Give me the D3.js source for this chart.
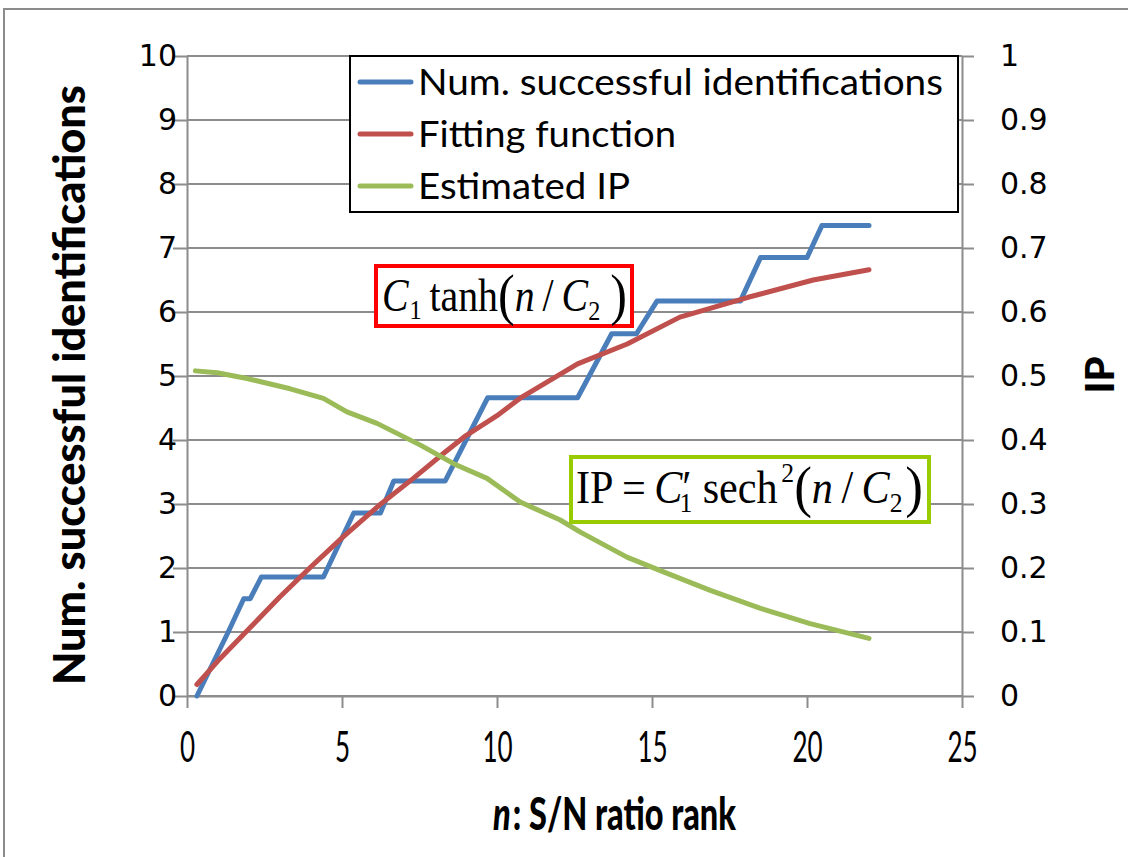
<!DOCTYPE html>
<html>
<head>
<meta charset="utf-8">
<script src="https://cdn.jsdelivr.net/npm/d3@7"></script>
<style>
body { margin: 0; background: #fff; }
</style>
</head>
<body>
<svg></svg>
<script>
var width = 1128;
var height = 857;

// number of successful identifications (step curve)
var numN = [0.32, 1.33, 1.83, 2.04, 2.4, 4.4, 5.38, 6.24, 6.67, 8.33, 9.7, 12.6, 13.7, 14.5, 15.16, 17.85, 18.5, 20.0, 20.48, 22.0];
var numVal = [0, 1.0, 1.52, 1.52, 1.86, 1.86, 2.86, 2.86, 3.36, 3.36, 4.66, 4.66, 5.66, 5.66, 6.17, 6.17, 6.85, 6.85, 7.35, 7.35];

// fitting function C1 tanh(n/C2)
var fitN = [0.32, 1.0, 2.0, 3.0, 4.0, 5.0, 6.2, 7.3, 8.3, 9.0, 10.0, 10.8, 12.6, 14.2, 15.9, 18.1, 20.2, 22.0];
var fitVal = [0.18, 0.55, 1.05, 1.55, 2.02, 2.47, 2.98, 3.4, 3.8, 4.07, 4.38, 4.67, 5.19, 5.5, 5.92, 6.23, 6.5, 6.66];

// estimated IP (right axis)
var ipN = [0.27, 0.97, 1.94, 3.33, 4.4, 5.16, 6.13, 7.53, 8.6, 9.68, 10.75, 12.04, 12.69, 14.19, 15.27, 16.88, 18.5, 20.1, 22.0];
var ipVal = [0.508, 0.505, 0.496, 0.48, 0.465, 0.444, 0.426, 0.392, 0.363, 0.34, 0.303, 0.275, 0.256, 0.217, 0.196, 0.165, 0.137, 0.113, 0.09];

var seriesNames = ["Num. successful  identifications", "Fitting function", "Estimated IP"];
var seriesColors = ["#4a7ebb", "#c0504d", "#9bbb59"];

var xTicks = [0, 5, 10, 15, 20, 25];
var yTicks = [0, 1, 2, 3, 4, 5, 6, 7, 8, 9, 10];
var ipTicks = [0, 0.1, 0.2, 0.3, 0.4, 0.5, 0.6, 0.7, 0.8, 0.9, 1];

var plot = { left: 187, right: 962, top: 56, bottom: 696 };

var svg = d3.select("svg")
    .attr("width", width)
    .attr("height", height)
    .style("font-family", "Lato, 'Open Sans', sans-serif");

// outer chart frame
svg.append("path")
    .attr("d", "M4," + height + "V9H" + width)
    .attr("fill", "none")
    .attr("stroke", "#8c8c8c")
    .attr("stroke-width", 2);

var x = d3.scaleLinear().domain([0, 25]).range([plot.left, plot.right]);
var y = d3.scaleLinear().domain([0, 10]).range([plot.bottom, plot.top]);
var y2 = d3.scaleLinear().domain([0, 1]).range([plot.bottom, plot.top]);

// gridlines
svg.append("g")
    .selectAll("line")
    .data(yTicks)
    .enter().append("line")
    .attr("x1", plot.left)
    .attr("x2", plot.right)
    .attr("y1", function (d) { return y(d); })
    .attr("y2", function (d) { return y(d); })
    .attr("stroke", "#8c8c8c")
    .attr("stroke-width", 2);

var xAxis = svg.append("g")
    .attr("transform", "translate(0," + plot.bottom + ")")
    .call(d3.axisBottom(x).tickValues(xTicks).tickSize(12).tickSizeOuter(0));

var yAxis = svg.append("g")
    .attr("transform", "translate(" + plot.left + ",0)")
    .call(d3.axisLeft(y).tickValues(yTicks).tickSize(14).tickSizeOuter(0));

var y2Axis = svg.append("g")
    .attr("transform", "translate(" + plot.right + ",0)")
    .call(d3.axisRight(y2).tickValues(ipTicks).tickSize(12).tickSizeOuter(0)
        .tickFormat(function (d) { return d === 0 || d === 1 ? d3.format("d")(d) : d3.format(".1f")(d); }));

[xAxis, yAxis, y2Axis].forEach(function (a) {
    a.selectAll("path.domain").attr("stroke", "#8c8c8c").attr("stroke-width", 2);
    a.selectAll(".tick line").attr("stroke", "#8c8c8c").attr("stroke-width", 2);
    a.selectAll("text").attr("fill", "#000");
});

xAxis.selectAll("text")
    .attr("font-family", "Lato, sans-serif")
    .attr("font-size", 42)
    .attr("y", 36)
    .attr("transform", "scale(0.62,1)");

yAxis.selectAll("text")
    .attr("font-family", "'DejaVu Sans', sans-serif")
    .attr("font-size", 30)
    .attr("x", -10);

y2Axis.selectAll("text")
    .attr("font-family", "'DejaVu Sans', sans-serif")
    .attr("font-size", 30)
    .attr("x", 38);

// series
var line = d3.line();

function pts(ns, vs, sc) {
    return ns.map(function (n, i) { return [x(n), sc(vs[i])]; });
}

var seriesPts = [pts(numN, numVal, y), pts(fitN, fitVal, y), pts(ipN, ipVal, y2)];

svg.append("g")
    .selectAll("path")
    .data(seriesPts)
    .enter().append("path")
    .attr("d", line)
    .attr("fill", "none")
    .attr("stroke", function (d, i) { return seriesColors[i]; })
    .attr("stroke-width", 5)
    .attr("stroke-linejoin", "round")
    .attr("stroke-linecap", "round");

// legend
var legend = svg.append("g");
legend.append("rect")
    .attr("x", 350).attr("y", 56)
    .attr("width", 608).attr("height", 156)
    .attr("fill", "#fff")
    .attr("stroke", "#000")
    .attr("stroke-width", 2);

var legendRows = legend.selectAll("g.row")
    .data(seriesNames)
    .enter().append("g")
    .attr("class", "row")
    .attr("transform", function (d, i) { return "translate(0," + (82 + i * 52) + ")"; });

legendRows.append("line")
    .attr("x1", 360).attr("x2", 411)
    .attr("stroke", function (d, i) { return seriesColors[i]; })
    .attr("stroke-width", 5)
    .attr("stroke-linecap", "round");

var legendLen = [525, 258, 212];
legendRows.append("text")
    .attr("x", 418)
    .attr("y", 13)
    .attr("font-size", 37)
    .attr("textLength", function (d, i) { return legendLen[i]; })
    .attr("lengthAdjust", "spacingAndGlyphs")
    .text(function (d) { return d; });

// axis titles
svg.append("text")
    .attr("transform", "translate(85,385) rotate(-90)")
    .attr("text-anchor", "middle")
    .attr("font-weight", "900")
    .attr("font-size", 43)
    .attr("textLength", 600)
    .attr("lengthAdjust", "spacingAndGlyphs")
    .text("Num. successful identifications");

var xt = svg.append("text")
    .attr("x", 493)
    .attr("y", 830)
    .attr("font-weight", "900")
    .attr("font-size", 46)
    .attr("textLength", 243)
    .attr("lengthAdjust", "spacingAndGlyphs");
xt.append("tspan").attr("font-style", "italic").text("n");
xt.append("tspan").attr("dx", 3).text(": S/N ratio rank");

svg.append("text")
    .attr("transform", "translate(1114,375) rotate(-90)")
    .attr("text-anchor", "middle")
    .attr("font-weight", "900")
    .attr("font-size", 40)
    .text("IP");

// formula annotations
var serif = "'Liberation Serif', 'Times New Roman', serif";

function formula(px, py, len, parts) {
    var t = svg.append("text")
        .attr("x", px)
        .attr("y", py)
        .attr("font-family", serif)
        .attr("font-size", 46)
        .attr("textLength", len)
        .attr("lengthAdjust", "spacingAndGlyphs");
    parts.forEach(function (p) {
        var s = t.append("tspan").text(p.t);
        if (p.i) s.attr("font-style", "italic");
        if (p.s) s.attr("font-size", p.s);
        if (p.dy) s.attr("dy", p.dy);
        if (p.dx) s.attr("dx", p.dx);
    });
    return t;
}

svg.append("rect")
    .attr("x", 376).attr("y", 266)
    .attr("width", 256).attr("height", 60)
    .attr("fill", "#fff")
    .attr("stroke", "#ff0000")
    .attr("stroke-width", 4);

formula(382, 311, 245, [
    { t: "C", i: true },
    { t: "1", s: 28, dy: 8, dx: 1 },
    { t: "\u2009tanh", dy: -8 },
    { t: "(", s: 58, dy: 3 },
    { t: "n", i: true, dy: -3 },
    { t: "\u2009/\u2009" },
    { t: "C", i: true },
    { t: "2", s: 28, dy: 9 },
    { t: "\u2009)", s: 58, dy: -6 }
]);

svg.append("rect")
    .attr("x", 571).attr("y", 457)
    .attr("width", 358).attr("height", 65)
    .attr("fill", "#fff")
    .attr("stroke", "#99cc00")
    .attr("stroke-width", 4);

formula(576, 503, 347, [
    { t: "IP\u2009=\u2009" },
    { t: "C", i: true },
    { t: "\u2032", dx: 0 },
    { t: "1", s: 28, dy: 9, dx: -13 },
    { t: "\u2009sech", dy: -9, dx: 2 },
    { t: "2", s: 28, dy: -21, dx: 4 },
    { t: "(", s: 58, dy: 24 },
    { t: "n", i: true, dy: -3 },
    { t: "\u2009/\u2009" },
    { t: "C", i: true },
    { t: "2", s: 28, dy: 9 },
    { t: ")", s: 58, dy: -6, dx: 3 }
]);
</script>
</body>
</html>
